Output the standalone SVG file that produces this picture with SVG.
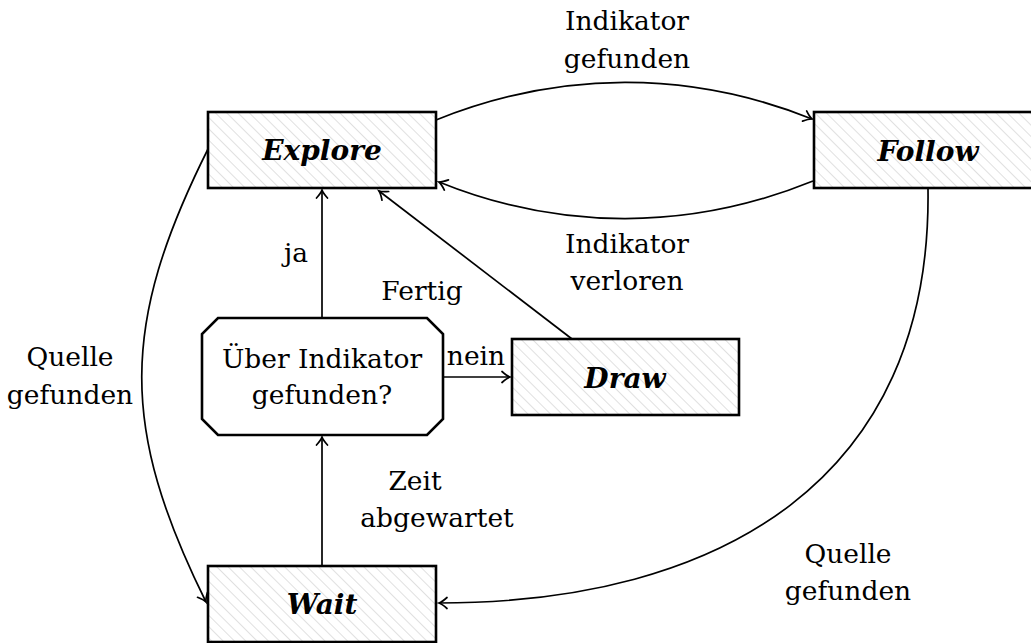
<svg xmlns="http://www.w3.org/2000/svg" width="1031" height="643" viewBox="0 0 1031 643">
  <style>
    .state { stroke: #000; stroke-width: 2.6; fill: url(#hatch); }
    .decision { stroke: #000; stroke-width: 2.6; fill: #fff; }
    .name { font-family: 'DejaVu Serif', serif; font-weight: bold; font-style: italic; font-size: 28px; text-anchor: middle; fill: #000; }
    .lbl { font-family: 'DejaVu Serif', serif; font-size: 26.5px; text-anchor: middle; fill: #000; }
    .edge { fill: none; stroke: #000; stroke-width: 1.7; marker-end: url(#tip); }
  </style>
  <defs>
    <pattern id="hatch" patternUnits="userSpaceOnUse" width="8" height="8" patternTransform="rotate(-45)">
      <rect width="8" height="8" fill="#fff"/>
      <line x1="0" y1="0" x2="0" y2="8" stroke="#cfcfcf" stroke-width="1.3"/>
    </pattern>
    <marker id="tip" markerUnits="userSpaceOnUse" markerWidth="16" markerHeight="16" viewBox="-10 -8 12 16" refX="0" refY="0" orient="auto">
      <path d="M -8 -5.5 Q -3 -1 0 0 Q -3 1 -8 5.5" fill="none" stroke="#000" stroke-width="1.7" stroke-linecap="round"/>
    </marker>
  </defs>

  <!-- connectors -->
  <g id="connectors">
    <path class="edge" d="M 436 120 C 560 70 690 70 812 119"/>
    <path class="edge" d="M 813 181 C 690 231 560 231 439 182"/>
    <path class="edge" d="M 208 149 C 120 325 120 428 206 602"/>
    <path class="edge" d="M 928 189 C 932 480 720 603 439 603"/>
    <path class="edge" d="M 322 318 L 322 190"/>
    <path class="edge" d="M 572 339 L 379 191"/>
    <path class="edge" d="M 443 377 L 510 377"/>
    <path class="edge" d="M 322 566 L 322 437"/>
  </g>

  <!-- edge labels -->
  <g id="edge-labels">
    <text class="lbl" x="627" y="30">Indikator</text>
    <text class="lbl" x="627" y="68">gefunden</text>
    <text class="lbl" x="627" y="253">Indikator</text>
    <text class="lbl" x="627" y="290">verloren</text>
    <text class="lbl" x="296" y="262">ja</text>
    <text class="lbl" x="422" y="300">Fertig</text>
    <text class="lbl" x="476" y="365">nein</text>
    <text class="lbl" x="70" y="366">Quelle</text>
    <text class="lbl" x="70" y="404">gefunden</text>
    <text class="lbl" x="415" y="490">Zeit</text>
    <text class="lbl" x="437" y="527">abgewartet</text>
    <text class="lbl" x="848" y="563">Quelle</text>
    <text class="lbl" x="848" y="600">gefunden</text>
  </g>

  <g id="explore">
    <rect class="state" x="208" y="112" width="228" height="76"/>
    <text class="name" x="322" y="160">Explore</text>
  </g>
  <g id="follow">
    <rect class="state" x="814" y="112" width="228" height="76"/>
    <text class="name" x="928" y="161">Follow</text>
  </g>
  <g id="draw">
    <rect class="state" x="512" y="339" width="227" height="76"/>
    <text class="name" x="625" y="388">Draw</text>
  </g>
  <g id="wait">
    <rect class="state" x="208" y="566" width="228" height="76"/>
    <text class="name" x="322" y="614">Wait</text>
  </g>
  <g id="decision">
    <polygon class="decision" points="218,318 427,318 443,334 443,419 427,435 218,435 202,419 202,334"/>
    <text class="lbl" x="322" y="368">Über Indikator</text>
    <text class="lbl" x="322" y="404">gefunden?</text>
  </g>
</svg>
